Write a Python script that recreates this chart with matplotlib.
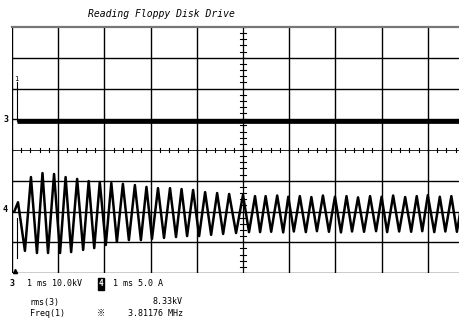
import matplotlib
matplotlib.use("Agg")
import matplotlib.pyplot as plt

# screen is 10 x 8 divisions, values below are in divisions
# channel 3: flat trace
ch3_t = [0.1, 10.0]
ch3_v = [0.94, 0.94]

# channel 4: peaks and troughs of the ringing waveform
peak_t = [0.13, 0.41, 0.66, 0.91, 1.16, 1.41, 1.66, 1.90, 2.15, 2.40, 2.66, 2.91,
          3.16, 3.42, 3.67, 3.92, 4.18, 4.44, 4.70, 5.00, 5.26, 5.49, 5.74, 5.98,
          6.23, 6.48, 6.73, 6.99, 7.24, 7.49, 7.75, 8.00, 8.25, 8.51, 8.76, 9.00,
          9.26, 9.51, 9.76]
peak_v = [-1.70, -0.88, -0.75, -0.78, -0.88, -0.94, -1.01, -1.04, -1.07, -1.10, -1.14, -1.20,
          -1.24, -1.24, -1.27, -1.30, -1.37, -1.40, -1.43, -1.46, -1.50, -1.50, -1.48, -1.52,
          -1.50, -1.53, -1.48, -1.52, -1.50, -1.54, -1.50, -1.52, -1.48, -1.53, -1.50, -1.47,
          -1.52, -1.50, -1.50]
trough_t = [0.28, 0.54, 0.78, 1.04, 1.28, 1.54, 1.78, 2.03, 2.27, 2.53, 2.79, 3.03,
            3.29, 3.55, 3.79, 4.05, 4.31, 4.57, 4.85, 5.13, 5.37, 5.61, 5.87, 6.10,
            6.36, 6.60, 6.86, 7.12, 7.36, 7.62, 7.88, 8.12, 8.38, 8.64, 8.88, 9.14,
            9.38, 9.63]
trough_v = [-3.28, -3.35, -3.35, -3.35, -3.32, -3.25, -3.19, -3.09, -2.99, -2.93, -2.93, -2.89,
            -2.86, -2.83, -2.80, -2.80, -2.76, -2.73, -2.70, -2.67, -2.67, -2.66, -2.68, -2.65,
            -2.67, -2.64, -2.66, -2.68, -2.65, -2.66, -2.64, -2.67, -2.65, -2.66, -2.64, -2.67,
            -2.65, -2.66]

# merge peaks and troughs in time order
pts = sorted(zip(peak_t + trough_t, peak_v + trough_v))
ch4_t = [0.05] + [p[0] for p in pts]
ch4_v = [-2.0] + [p[1] for p in pts]

mono = ["DejaVu Sans Mono", "Noto Sans CJK JP"]

fig = plt.figure(figsize=(4.6, 3.34), dpi=100)
ax = fig.add_axes([12 / 460, 61 / 334, 462 / 460, 246 / 334])
ax.set_xlim(0, 10)
ax.set_ylim(-4, 4)
ax.set_xticks([])
ax.set_yticks([])
for s in ["right", "bottom", "left"]:
    ax.spines[s].set_visible(False)
ax.spines["top"].set_color("#777777")
ax.spines["top"].set_linewidth(1.6)

# graticule
for x in range(0, 11):
    if x != 5:
        ax.axvline(x, color="black", lw=1.0)
for y in range(-4, 4):
    if y != 0:
        ax.axhline(y, color="black", lw=1.0)

# centre lines with minor ticks
ax.axvline(5, color="black", lw=0.9)
ax.axhline(0, color="black", lw=0.6)
for i in range(-20, 21):
    yy = i * 0.2
    ax.plot([4.94, 5.06], [yy, yy], color="black", lw=0.8)
for i in range(0, 51):
    xx = i * 0.2
    ax.plot([xx, xx], [-0.07, 0.07], color="black", lw=0.8)

# traces
ax.plot(ch3_t, ch3_v, color="black", lw=3.4, solid_capstyle="butt")
ax.plot(ch4_t, ch4_v, color="black", lw=1.8)

# trigger marker
ax.plot([0.1, 0.1], [0.94, 2.2], color="black", lw=0.8)
ax.text(0.1, 2.2, "1", fontsize=5, ha="center", va="bottom", family=mono)
ax.plot([0.1, 0.1], [-2.2, -3.5], color="black", lw=0.8)
ax.plot([0.07], [-3.92], marker="^", color="black", ms=3, clip_on=False)

# channel ground markers
ax.text(-0.14, 1.0, "3", fontsize=6, fontweight="bold", ha="center", va="center",
        family=mono, clip_on=False)
ax.text(-0.14, -1.95, "4", fontsize=6, fontweight="bold", ha="center", va="center",
        family=mono, clip_on=False)

fig.text(88 / 460, 1 - 14 / 334, "Reading Floppy Disk Drive", fontsize=7,
         style="italic", family=mono, va="center", ha="left")

fig.text(10 / 460, 1 - 284 / 334, "3", fontsize=6, fontweight="bold", family=mono, va="center")
fig.text(27 / 460, 1 - 284 / 334, "1 ms 10.0kV", fontsize=6, family=mono, va="center")
fig.text(101 / 460, 1 - 284 / 334, "4", fontsize=5.5, fontweight="bold", family=mono,
         va="center", ha="center", color="white",
         bbox=dict(boxstyle="square,pad=0.15", fc="black", ec="black"))
fig.text(113 / 460, 1 - 284 / 334, "1 ms 5.0 A", fontsize=6, family=mono, va="center")

fig.text(30 / 460, 1 - 302 / 334, "rms(3)", fontsize=6, family=mono, va="center")
fig.text(183 / 460, 1 - 302 / 334, "8.33kV", fontsize=6, family=mono, va="center", ha="right")
fig.text(30 / 460, 1 - 313 / 334, "Freq(1)", fontsize=6, family=mono, va="center")
fig.text(101 / 460, 1 - 313 / 334, "\u203b", fontsize=6, family=mono, va="center", ha="center")
fig.text(183 / 460, 1 - 313 / 334, "3.81176 MHz", fontsize=6, family=mono, va="center", ha="right")

fig.savefig("out.png", dpi=100)
